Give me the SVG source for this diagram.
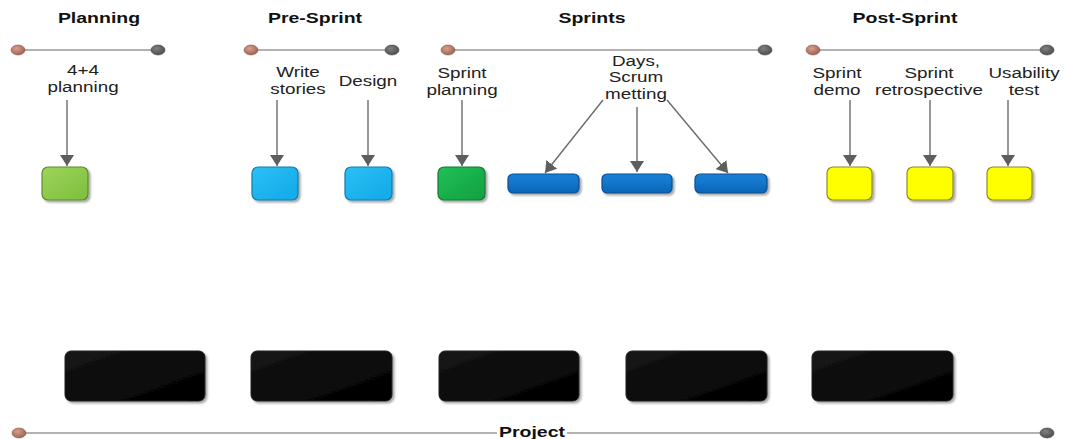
<svg xmlns="http://www.w3.org/2000/svg" width="1065" height="439" viewBox="0 0 1065 439">
<style>
.title{font-family:"Liberation Sans",Arial,sans-serif;font-weight:bold;font-size:15px;fill:#111;text-anchor:middle}
.lbl{font-family:"Liberation Sans",Arial,sans-serif;font-size:14.5px;fill:#222;text-anchor:middle}
.tl{stroke:#666;stroke-width:1.2;fill:none}
.conn{stroke:#6b6b6b;stroke-width:1.4;fill:none;marker-end:url(#arr)}
.dotL{fill:url(#gBrown);stroke:#8a5a4a;stroke-width:0.6}
.dotR{fill:url(#gGray);stroke:#444;stroke-width:0.6}
.lgreen{fill:url(#gLGreen);stroke:#5e8a30;stroke-width:1.2}
.blue{fill:url(#gBlue);stroke:#1a7aa8;stroke-width:1.2}
.green{fill:url(#gGreen);stroke:#137a33;stroke-width:1.2}
.dblue{fill:url(#gDBlue);stroke:#0b4f8f;stroke-width:1.2}
.yellow{fill:#ffff00;stroke:#8a8a30;stroke-width:1.2}
.black{fill:url(#gBlack);stroke:#222;stroke-width:1}
</style>
<defs>
<marker id="arr" markerUnits="userSpaceOnUse" markerWidth="12" markerHeight="14" refX="11" refY="7" orient="auto">
<path d="M0,0 L11,7 L0,14 z" fill="#5e5e5e"/>
</marker>
<filter id="sh" x="-20%" y="-20%" width="150%" height="150%">
<feDropShadow dx="2" dy="2" stdDeviation="1.2" flood-color="#000" flood-opacity="0.35"/>
</filter>
<radialGradient id="gBrown" cx="0.4" cy="0.35" r="0.7"><stop offset="0" stop-color="#d8a08c"/><stop offset="1" stop-color="#9a5e4c"/></radialGradient>
<radialGradient id="gGray" cx="0.4" cy="0.35" r="0.7"><stop offset="0" stop-color="#808080"/><stop offset="1" stop-color="#4a4a4a"/></radialGradient>
<linearGradient id="gLGreen" x1="0" y1="0" x2="1" y2="1"><stop offset="0" stop-color="#9ed45a"/><stop offset="1" stop-color="#7cbf3c"/></linearGradient>
<linearGradient id="gBlue" x1="0" y1="0" x2="1" y2="1"><stop offset="0" stop-color="#2cc0f5"/><stop offset="1" stop-color="#10a8e8"/></linearGradient>
<linearGradient id="gGreen" x1="0" y1="0" x2="1" y2="1"><stop offset="0" stop-color="#22c058"/><stop offset="1" stop-color="#10a040"/></linearGradient>
<linearGradient id="gDBlue" x1="0" y1="0" x2="0" y2="1"><stop offset="0" stop-color="#1a82d8"/><stop offset="1" stop-color="#0a66b8"/></linearGradient>
<linearGradient id="gBlack" x1="0" y1="0" x2="1" y2="1"><stop offset="0" stop-color="#161616"/><stop offset="1" stop-color="#000"/></linearGradient>
</defs>
<rect width="1065" height="439" fill="#fff"/>

<g id="phase-planning">
<text class="title" transform="translate(99,23) scale(1.3,1)">Planning</text>
<line class="tl" x1="18" y1="50" x2="158" y2="50"/>
<ellipse class="dotL" cx="18" cy="50" rx="7" ry="5"/>
<ellipse class="dotR" cx="158" cy="50" rx="7" ry="5"/>
</g>
<g id="phase-presprint">
<text class="title" transform="translate(315,23) scale(1.3,1)">Pre-Sprint</text>
<line class="tl" x1="251" y1="50" x2="392" y2="50"/>
<ellipse class="dotL" cx="251" cy="50" rx="7" ry="5"/>
<ellipse class="dotR" cx="392" cy="50" rx="7" ry="5"/>
</g>
<g id="phase-sprints">
<text class="title" transform="translate(592,23) scale(1.3,1)">Sprints</text>
<line class="tl" x1="448" y1="50" x2="765" y2="50"/>
<ellipse class="dotL" cx="448" cy="50" rx="7" ry="5"/>
<ellipse class="dotR" cx="765" cy="50" rx="7" ry="5"/>
</g>
<g id="phase-postsprint">
<text class="title" transform="translate(905,23) scale(1.3,1)">Post-Sprint</text>
<line class="tl" x1="813" y1="50" x2="1047" y2="50"/>
<ellipse class="dotL" cx="813" cy="50" rx="7" ry="5"/>
<ellipse class="dotR" cx="1047" cy="50" rx="7" ry="5"/>
</g>

<g id="labels">
<text class="lbl" transform="translate(83,75) scale(1.3,1)"><tspan x="0" y="0">4+4</tspan><tspan x="0" y="17">planning</tspan></text>
<text class="lbl" transform="translate(298,77) scale(1.3,1)"><tspan x="0" y="0">Write</tspan><tspan x="0" y="17">stories</tspan></text>
<text class="lbl" transform="translate(368,86) scale(1.3,1)">Design</text>
<text class="lbl" transform="translate(462,78) scale(1.3,1)"><tspan x="0" y="0">Sprint</tspan><tspan x="0" y="17">planning</tspan></text>
<text class="lbl" transform="translate(636,66) scale(1.3,1)"><tspan x="0" y="0">Days,</tspan><tspan x="0" y="16.5">Scrum</tspan><tspan x="0" y="33">metting</tspan></text>
<text class="lbl" transform="translate(837,78) scale(1.3,1)"><tspan x="0" y="0">Sprint</tspan><tspan x="0" y="17">demo</tspan></text>
<text class="lbl" transform="translate(929,78) scale(1.3,1)"><tspan x="0" y="0">Sprint</tspan><tspan x="0" y="17">retrospective</tspan></text>
<text class="lbl" transform="translate(1024,78) scale(1.3,1)"><tspan x="0" y="0">Usability</tspan><tspan x="0" y="17">test</tspan></text>
</g>

<g id="connectors">
<line class="conn" x1="67" y1="100" x2="67" y2="166"/>
<line class="conn" x1="277" y1="100" x2="277" y2="166"/>
<line class="conn" x1="368" y1="100" x2="368" y2="166"/>
<line class="conn" x1="462" y1="100" x2="462" y2="166"/>
<line class="conn" x1="603" y1="100" x2="545" y2="173"/>
<line class="conn" x1="637" y1="107" x2="637" y2="172"/>
<line class="conn" x1="667" y1="100" x2="728" y2="173"/>
<line class="conn" x1="850" y1="100" x2="850" y2="166"/>
<line class="conn" x1="930" y1="100" x2="930" y2="166"/>
<line class="conn" x1="1008" y1="100" x2="1008" y2="166"/>
</g>

<g id="node-planning" filter="url(#sh)"><rect class="lgreen" x="42" y="167" width="46" height="33" rx="6"/></g>
<g id="node-write-stories" filter="url(#sh)"><rect class="blue" x="252" y="167" width="46" height="33" rx="6"/></g>
<g id="node-design" filter="url(#sh)"><rect class="blue" x="345" y="167" width="47" height="33" rx="6"/></g>
<g id="node-sprint-planning" filter="url(#sh)"><rect class="green" x="438" y="167" width="47" height="33" rx="6"/></g>
<g id="node-day-1" filter="url(#sh)"><rect class="dblue" x="508" y="174" width="71" height="19" rx="5"/></g>
<g id="node-day-2" filter="url(#sh)"><rect class="dblue" x="602" y="174" width="70" height="19" rx="5"/></g>
<g id="node-day-3" filter="url(#sh)"><rect class="dblue" x="695" y="174" width="72" height="19" rx="5"/></g>
<g id="node-sprint-demo" filter="url(#sh)"><rect class="yellow" x="827" y="167" width="45" height="33" rx="6"/></g>
<g id="node-retrospective" filter="url(#sh)"><rect class="yellow" x="907" y="167" width="46" height="33" rx="6"/></g>
<g id="node-usability" filter="url(#sh)"><rect class="yellow" x="987" y="167" width="45" height="33" rx="6"/></g>

<g id="node-block-1" filter="url(#sh)"><rect class="black" x="65" y="351" width="140" height="50" rx="6"/></g>
<g id="node-block-2" filter="url(#sh)"><rect class="black" x="251" y="351" width="141" height="50" rx="6"/></g>
<g id="node-block-3" filter="url(#sh)"><rect class="black" x="439" y="351" width="140" height="50" rx="6"/></g>
<g id="node-block-4" filter="url(#sh)"><rect class="black" x="626" y="351" width="141" height="50" rx="6"/></g>
<g id="node-block-5" filter="url(#sh)"><rect class="black" x="812" y="351" width="141" height="50" rx="6"/></g>

<g id="timeline-project">
<line class="tl" x1="19" y1="433" x2="1047" y2="433"/>
<rect x="497" y="424" width="70" height="15" fill="#fff"/>
<text class="title" transform="translate(532,437) scale(1.3,1)">Project</text>
<ellipse class="dotL" cx="19" cy="433" rx="7" ry="5"/>
<ellipse class="dotR" cx="1047" cy="433" rx="7" ry="5"/>
</g>
</svg>
